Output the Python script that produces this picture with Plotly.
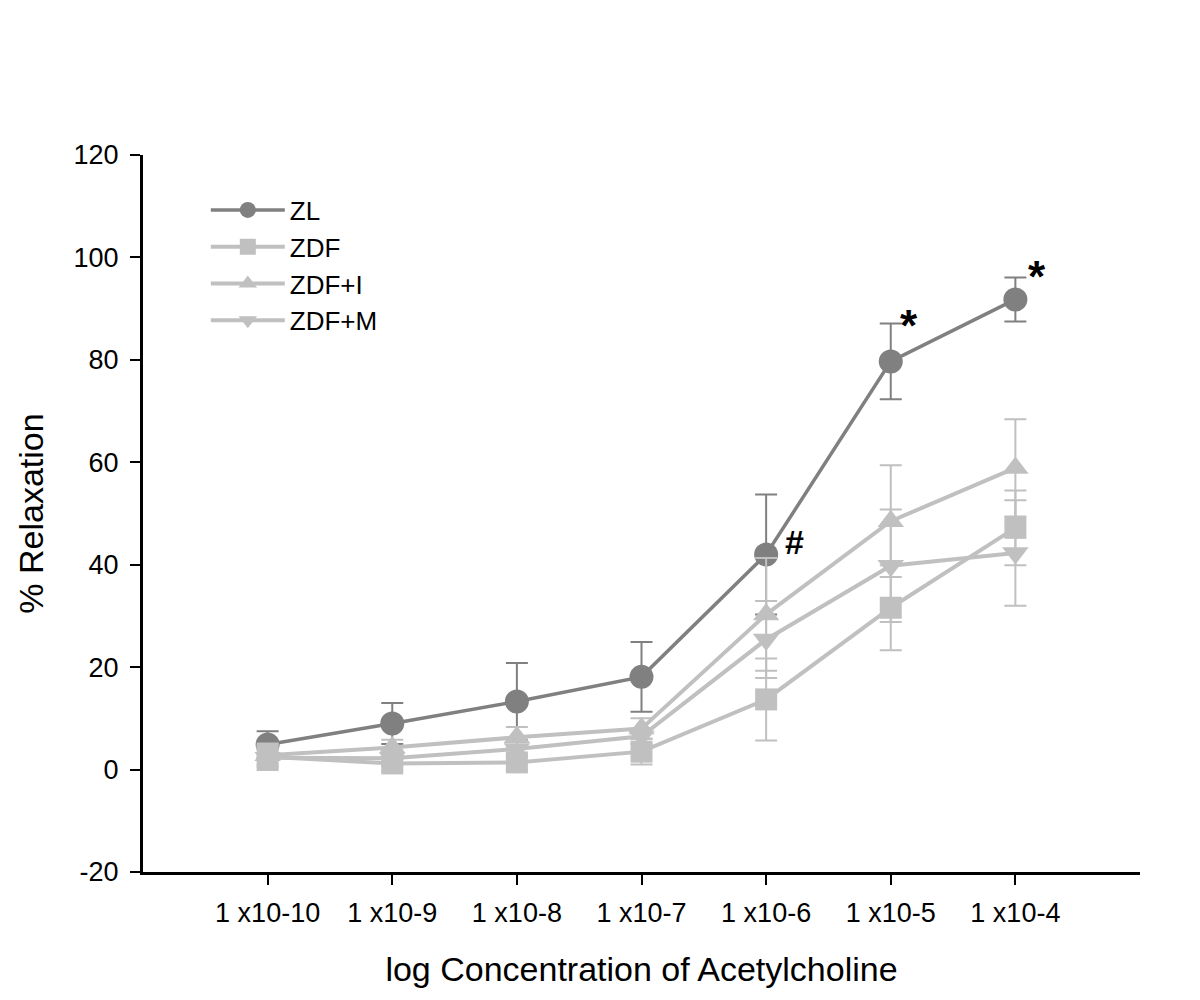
import plotly.graph_objects as go

# Concentration categories (x tick labels)
concentrations = ["1 x10-10", "1 x10-9", "1 x10-8", "1 x10-7", "1 x10-6", "1 x10-5", "1 x10-4"]

# % Relaxation means and error (SEM) per group
zl = [4.9, 9.0, 13.3, 18.1, 42.0, 79.7, 91.8]
zl_err = [2.6, 4.0, 7.5, 6.8, 11.7, 7.4, 4.3]

zdf = [2.5, 1.2, 1.4, 3.5, 13.7, 31.6, 47.2]
zdf_err = [2.6, 1.5, 1.5, 2.5, 8.0, 8.3, 7.3]

zdf_i = [2.8, 4.3, 6.3, 8.0, 30.3, 48.5, 58.9]
zdf_i_err = [2.0, 1.5, 2.0, 2.0, 11.0, 10.9, 9.5]

zdf_m = [2.3, 2.2, 4.0, 6.5, 25.4, 39.8, 42.3]
zdf_m_err = [2.0, 1.5, 1.5, 1.5, 7.5, 11.0, 10.3]

y_ticks = [-20, 0, 20, 40, 60, 80, 100, 120]
y_tick_labels = ["-20", "0", "20", "40", "60", "80", "100", "120"]

DARK = "#808080"
LIGHT = "#c0c0c0"
FONT = "Liberation Sans, Arial, sans-serif"

series = [
    ("ZL", zl, zl_err, DARK, "circle", 24, 3.5),
    ("ZDF", zdf, zdf_err, LIGHT, "square", 22, 4),
    ("ZDF+I", zdf_i, zdf_i_err, LIGHT, "triangle-up", 23, 4),
    ("ZDF+M", zdf_m, zdf_m_err, LIGHT, "triangle-down", 23, 4),
]

fig = go.Figure()
for name, vals, errs, color, symbol, size, lw in series:
    fig.add_trace(go.Scatter(
        x=concentrations, y=vals, name=name, mode="lines+markers",
        line=dict(color=color, width=lw),
        marker=dict(symbol=symbol, size=size, color=color, line=dict(width=0)),
        error_y=dict(type="data", array=errs, visible=True, color=color,
                     thickness=2, width=11),
    ))

fig.update_layout(
    width=1200, height=1000,
    margin=dict(l=135, r=68, t=147, b=136),
    paper_bgcolor="white", plot_bgcolor="white",
    font=dict(family=FONT, color="black"),
    showlegend=True,
    legend=dict(x=0.063, y=0.956, xanchor="left", yanchor="top",
                font=dict(size=26, family=FONT, color="black"),
                bgcolor="rgba(0,0,0,0)", itemwidth=74, tracegroupgap=0),
    xaxis=dict(type="category", range=[-1, 7], showline=True, linewidth=3,
               linecolor="black", ticks="outside", ticklen=10, tickwidth=1.5,
               tickcolor="black", showgrid=False, zeroline=False,
               ticklabelstandoff=5,
               tickfont=dict(size=27, family=FONT, color="black"),
               title=dict(text="log Concentration of Acetylcholine",
                          font=dict(size=34, family=FONT, color="black"),
                          standoff=30)),
    yaxis=dict(range=[-20, 120], tickvals=y_ticks, ticktext=y_tick_labels,
               showline=True, linewidth=3,
               linecolor="black", ticks="outside", ticklen=10, tickwidth=1.5,
               tickcolor="black", showgrid=False, zeroline=False,
               ticklabelstandoff=6,
               tickfont=dict(size=27, family=FONT, color="black"),
               title=dict(text="% Relaxation",
                          font=dict(size=34, family=FONT, color="black"),
                          standoff=20)),
    annotations=[
        dict(x=4.23, y=44.5, text="<b>#</b>", showarrow=False,
             font=dict(size=34, family=FONT, color="black")),
        dict(x=5.15, y=86.8, text="<b>*</b>", showarrow=False,
             font=dict(size=44, family=FONT, color="black")),
        dict(x=6.17, y=96.2, text="<b>*</b>", showarrow=False,
             font=dict(size=44, family=FONT, color="black")),
    ],
)

fig.write_html("out.html")
